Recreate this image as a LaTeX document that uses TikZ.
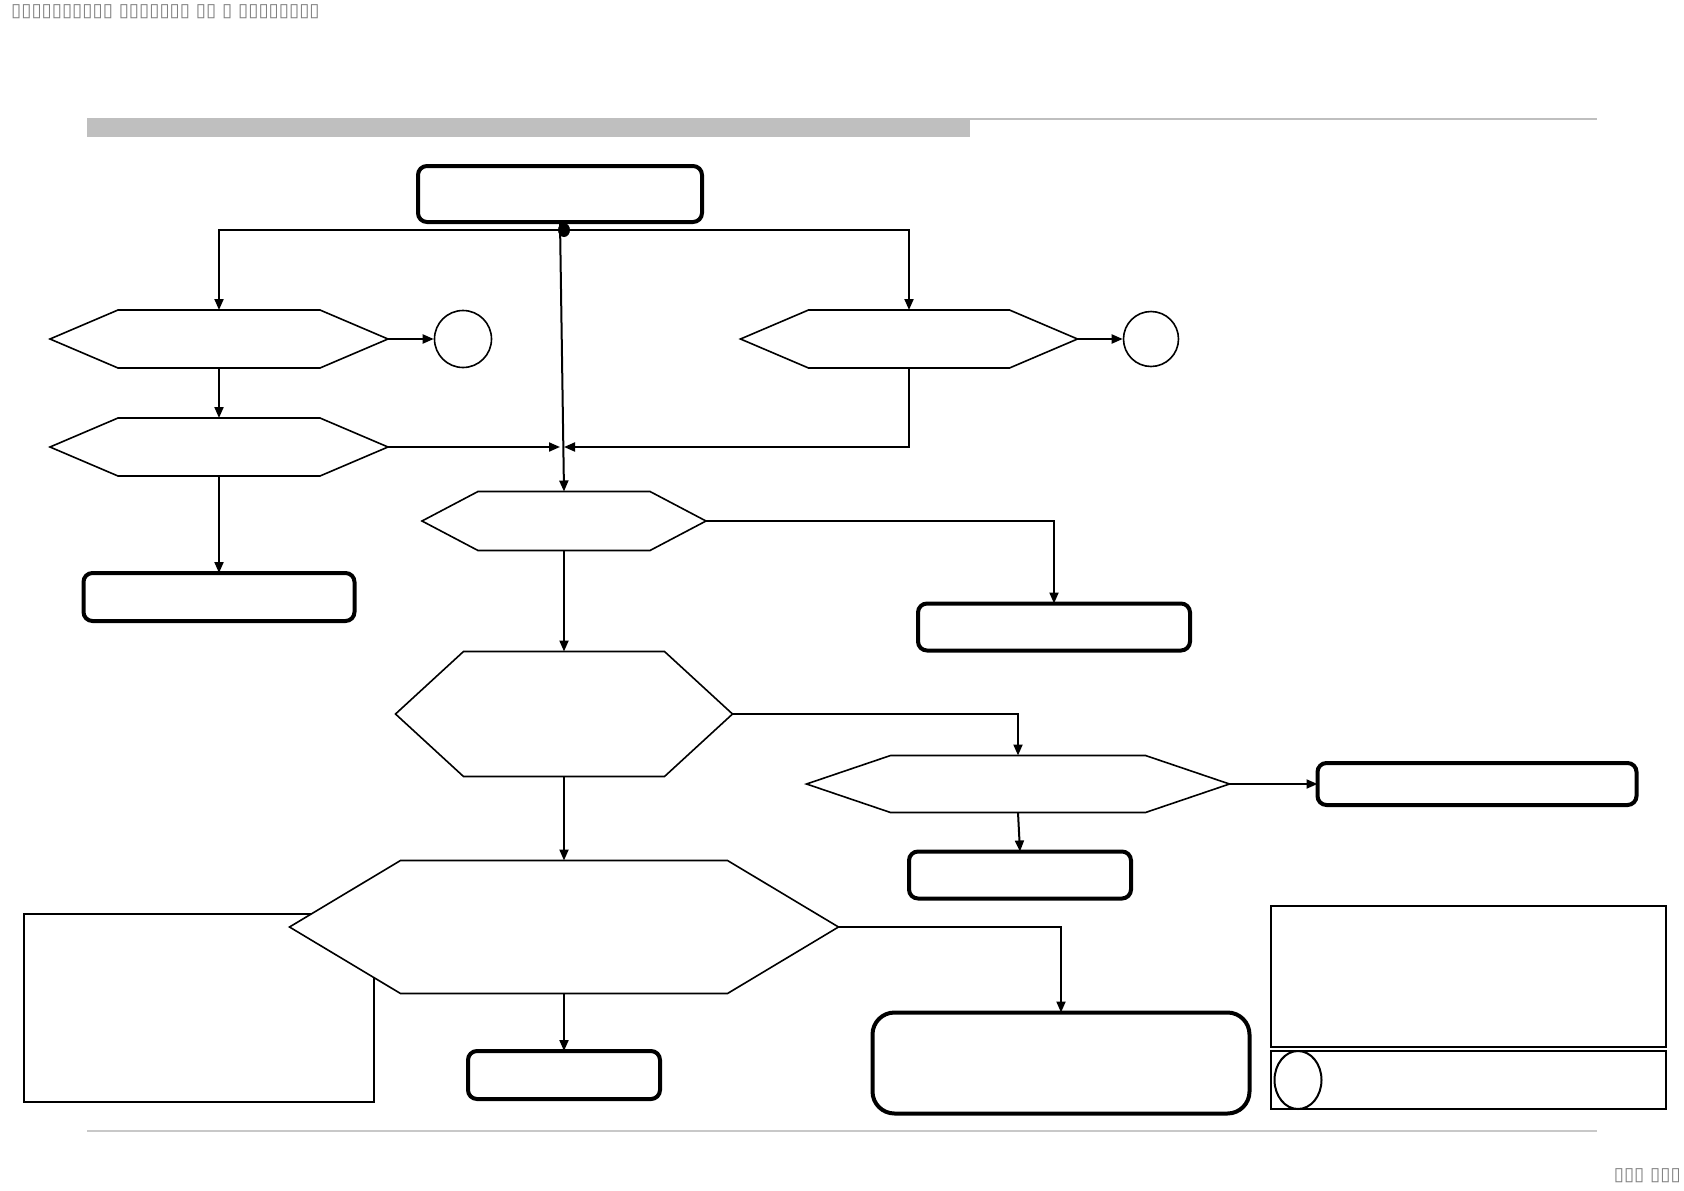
\documentclass[tikz,border=0pt]{standalone}
\usepackage{fontspec}
\newfontfamily\glyphfont{DejaVu Sans}
\usetikzlibrary{arrows.meta,positioning,calc,shapes.geometric}
\definecolor{bargray}{RGB}{191,191,191}
\definecolor{txtgray}{RGB}{128,128,128}
\definecolor{rulegray}{RGB}{200,200,200}
% hexagon outline round an invisible node: name, indent
\newcommand{\hexoutline}[2]{%
  \draw[hexline] (#1.west) -- ([xshift=#2]#1.north west) -- ([xshift=-#2]#1.north east)
    -- (#1.east) -- ([xshift=-#2]#1.south east) -- ([xshift=#2]#1.south west) -- cycle;}
\begin{document}
\begin{tikzpicture}[x=1pt, y=-1pt,
    box/.style={rectangle, rounded corners=9pt, draw=black, line width=4pt, inner sep=0pt, outer sep=0pt},
    hexnode/.style={rectangle, inner sep=0pt, outer sep=0pt},
    hexline/.style={draw=black, line width=1.6pt, fill=white, line join=miter},
    stopcirc/.style={circle, draw=black, line width=1.6pt, inner sep=0pt, fill=white},
    arr/.style={-{Triangle[length=11pt,width=9pt]}, line width=2pt},
    tofu/.style={font=\glyphfont\fontsize{18.5}{18.5}\selectfont, text=txtgray, inner sep=0pt}
  ]
    \useasboundingbox (0,0) rectangle (1684,1191);
    \fill[white] (0,0) rectangle (1684,1191);
    % Header and footer
    \node[tofu, anchor=west] (hdr) at (11,12) {▯▯▯▯▯▯▯▯▯▯ ▯▯▯▯▯▯▯ ▯▯ ▯ ▯▯▯▯▯▯▯▯};
    \node[tofu, anchor=east] (ftr) at (1681,1176) {▯▯▯ ▯▯▯};
    \fill[bargray] (87,118) rectangle (970,137);
    \draw[bargray, line width=2pt] (970,119) -- (1597,119);
    \draw[rulegray, line width=1.5pt] (87,1131) -- (1597,1131);
    % Side boxes
    \draw[line width=1.5pt] (24,914) rectangle (374,1102);
    \draw[line width=2.5pt] (1271,906) rectangle (1666,1047);
    \draw[line width=2.5pt] (1271,1051) rectangle (1666,1109);
    \node[ellipse, draw, line width=2pt, minimum width=47pt, minimum height=58pt,
          inner sep=0pt] (mark) at (1298,1080) {};
    % Start
    \node[box, minimum width=284pt, minimum height=56pt] (start) at (560,194) {};
    \coordinate (jn) at (564,230);
    % Hexagon nodes
    \node[hexnode, minimum width=338pt, minimum height=58pt] (testa) at (219,339) {};
    \node[hexnode, minimum width=337pt, minimum height=58pt] (testb) at (909,339) {};
    \node[hexnode, minimum width=338pt, minimum height=58pt] (testc) at (219,447) {};
    \node[hexnode, minimum width=284pt, minimum height=59pt] (testd) at (564,521) {};
    \node[hexnode, minimum width=337pt, minimum height=125pt] (teste) at (564,714) {};
    \node[hexnode, minimum width=423pt, minimum height=57pt] (testf) at (1018,784) {};
    \node[hexnode, minimum width=549pt, minimum height=133pt] (testg) at (564,927) {};
    \hexoutline{testa}{68pt}
    \hexoutline{testb}{68pt}
    \hexoutline{testc}{68pt}
    \hexoutline{testd}{56pt}
    \hexoutline{teste}{68pt}
    \hexoutline{testf}{84pt}
    \hexoutline{testg}{111pt}
    % Stop circles
    \node[stopcirc, minimum size=57pt] (stopa) at (463,339) {};
    \node[stopcirc, minimum size=55pt] (stopb) at (1151,339) {};
    % Result boxes
    \node[box, minimum width=271pt, minimum height=48pt] (resa) at (219,597) {};
    \node[box, minimum width=272pt, minimum height=47pt] (resb) at (1054,627) {};
    \node[box, minimum width=319pt, minimum height=42pt] (resc) at (1477,784) {};
    \node[box, minimum width=222pt, minimum height=47pt] (resd) at (1020,875) {};
    \node[box, rounded corners=22pt, minimum width=377pt, minimum height=101pt] (rese) at (1061,1063) {};
    \node[box, minimum width=192pt, minimum height=48pt] (resf) at (564,1075) {};
    % Connectors
    \draw[arr] (start.south) -- (testd.north);
    \draw[arr] (jn) -| (testa.north);
    \draw[arr] (jn) -| (testb.north);
    \fill (jn) ellipse (6pt and 7pt);
    \draw[arr] (testa.east) -- (stopa.west);
    \draw[arr] (testb.east) -- (stopb.west);
    \draw[arr] (testa.south) -- (testc.north);
    \coordinate (mrgl) at (560,447);
    \coordinate (mrgr) at (564,447);
    \draw[arr] (testc.east) -- (mrgl);
    \draw[arr] (testb.south) |- (mrgr);
    \draw[arr] (testc.south) -- (resa.north);
    \draw[arr] (testd.east) -| (resb.north);
    \draw[arr] (testd.south) -- (teste.north);
    \draw[arr] (teste.east) -| (testf.north);
    \draw[arr] (testf.east) -- (resc.west);
    \draw[arr] (testf.south) -- (resd.north);
    \draw[arr] (teste.south) -- (testg.north);
    \draw[arr] (testg.east) -| (rese.north);
    \draw[arr] (testg.south) -- (resf.north);
  \end{tikzpicture}
\end{document}
